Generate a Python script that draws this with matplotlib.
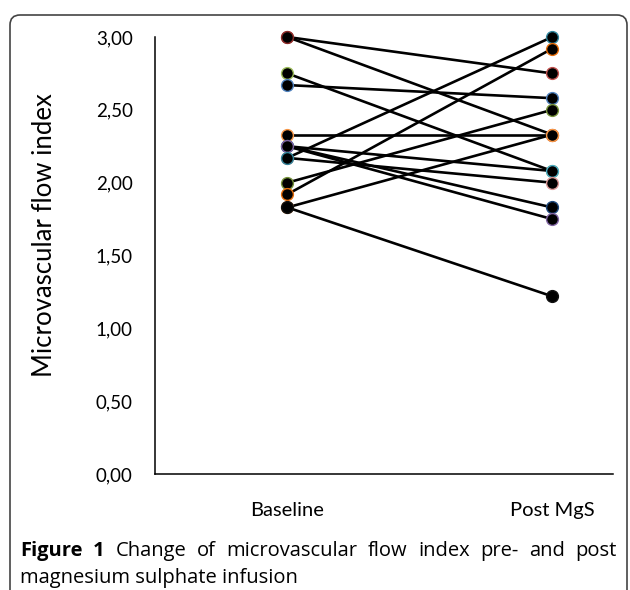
import matplotlib
matplotlib.use("Agg")
from matplotlib import pyplot as plt
from matplotlib.patches import FancyBboxPatch
from matplotlib.transforms import IdentityTransform
from matplotlib.ticker import FuncFormatter

# microvascular flow index per patient, before and after MgSO4
baseline = [3.00, 3.00, 2.75, 2.67, 2.33, 2.25, 2.25, 2.25, 2.17, 2.17, 2.00, 1.92, 1.83, 1.83]
post = [2.75, 2.33, 2.08, 2.58, 2.33, 2.08, 1.83, 1.75, 2.00, 3.00, 2.50, 2.92, 2.33, 1.22]
categories = ["Baseline", "Post MgS"]
yticks = [0.0, 0.5, 1.0, 1.5, 2.0, 2.5, 3.0]

# excel-ish marker edge colours, one per patient
edge_colors = ["#C0504D", "#8B2D2A", "#9BBB59", "#4F81BD", "#F79646", "#4BACC6", "#1F497D",
               "#8064A2", "#D99694", "#31859C", "#77933C", "#E46C0A", "#F79646", "#111111"]

tick_font = "Lato"
cap_font = "Open Sans"

fig = plt.figure(figsize=(6.3, 5.9), dpi=100)
ax = fig.add_axes([155/630, 1-474/590, (613-155)/630, (474-37)/590])

for i in range(len(baseline)):
    ax.plot([0, 1], [baseline[i], post[i]], "-", color="black", lw=1.9,
            marker="o", markersize=8.5, markerfacecolor="black",
            markeredgecolor=edge_colors[i], markeredgewidth=1.0, zorder=3, clip_on=False)

ax.set_ylim(0, 3)
ax.set_xlim(-0.5, 1.23)
ax.set_yticks(yticks)
ax.yaxis.set_major_formatter(FuncFormatter(lambda v, p: f"{v:.2f}".replace(".", ",")))
ax.set_xticks([0, 1])
ax.set_xticklabels(categories)
ax.tick_params(length=0)
ax.tick_params(axis="y", pad=16, labelsize=13.5)
ax.tick_params(axis="x", pad=20, labelsize=14.5)
for lab in ax.get_xticklabels() + ax.get_yticklabels():
    lab.set_fontfamily(tick_font)
ax.spines["top"].set_visible(False)
ax.spines["right"].set_visible(False)
ax.spines["left"].set_linewidth(1.1)
ax.spines["bottom"].set_linewidth(1.1)
ax.set_ylabel("Microvascular flow index", fontsize=18.5, family=tick_font)
ax.yaxis.set_label_coords((57-155)/458, (474-235)/437)

# rounded frame, bottom runs off the picture
frame = FancyBboxPatch((10, -30), 617, 590 - 15 + 30, boxstyle="round,pad=0,rounding_size=10",
                       transform=IdentityTransform(), fill=False, edgecolor="#444444", lw=1.2)
fig.patches.append(frame)

# caption, first line justified
renderer = fig.canvas.get_renderer()
words = ["Figure", "1", "Change", "of", "microvascular", "flow", "index", "pre-", "and", "post"]
x_left, x_right = 20/630, 617/630
y1 = 1 - 551/590
texts = []
for j, w in enumerate(words):
    t = fig.text(0, y1, w, fontsize=14.5, family=cap_font, va="center",
                 weight="bold" if j < 2 else "normal")
    texts.append(t)
widths = [t.get_window_extent(renderer).width/630 for t in texts]
gap = (x_right - x_left - sum(widths)) / (len(words) - 1)
x = x_left
for t, wd in zip(texts, widths):
    t.set_x(x)
    x += wd + gap
fig.text(x_left, 1 - 578/590, "magnesium sulphate infusion", fontsize=14.5, family=cap_font, va="center")

plt.savefig("out.png", dpi=100)
